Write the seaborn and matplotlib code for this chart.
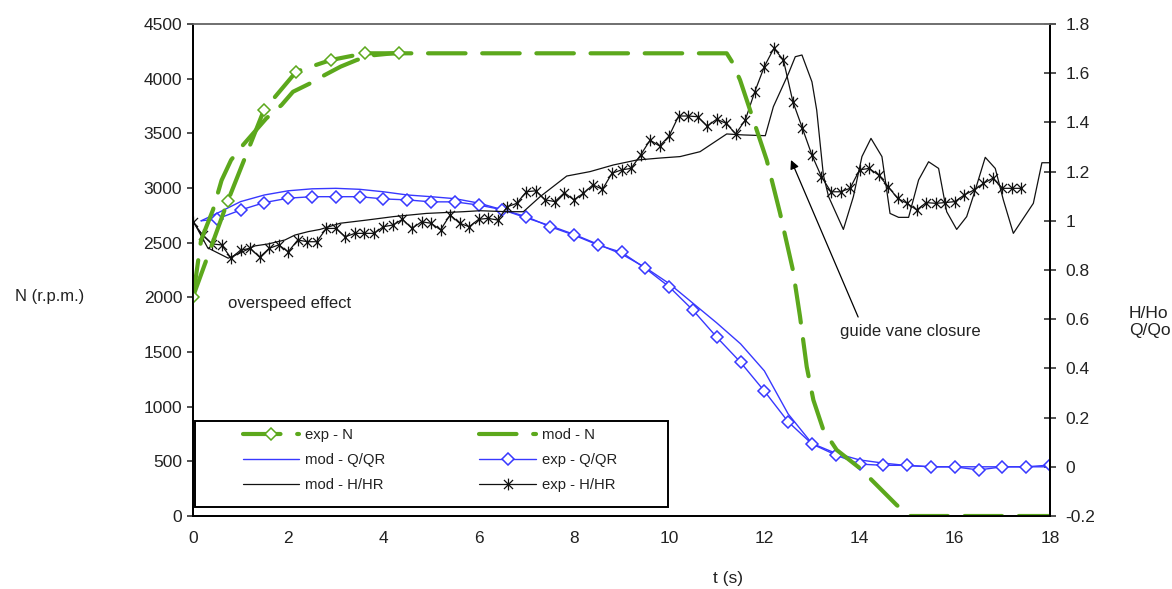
import matplotlib
matplotlib.use("Agg")
import matplotlib.pyplot as plt
from matplotlib.path import Path
from matplotlib.patches import Rectangle
import seaborn as sns

# ---- speed N (r.p.m.) ----
t_exp_n = [0.0, 0.735, 1.49, 2.17, 2.89, 3.61, 4.33]
n_exp = [2006, 2885, 3713, 4065, 4170, 4232, 4232]

t_mod_n = [0.0, 0.17, 0.42, 0.6, 0.8, 1.05, 1.54, 1.86, 2.1, 2.46, 2.77, 3.1,
           3.44, 3.8, 4.2, 11.21, 11.32, 11.49, 12.05, 12.33, 12.6, 12.75,
           12.89, 13.03, 13.24, 13.52, 14.01, 14.78, 15.06, 18.0]
n_mod = [2000, 2524, 2800, 3070, 3256, 3393, 3637, 3759, 3880, 3957, 4034, 4110,
         4171, 4215, 4232, 4232, 4155, 3988, 3256, 2770, 2250, 1823,
         1366, 1061, 787, 604, 436, 100, 0, 0]

# ---- discharge Q/QR ----
t_exp_q = [0.17, 0.5, 1.0, 1.5, 2.0, 2.5, 3.0, 3.5, 4.0, 4.5, 5.0, 5.5, 6.0, 6.5,
           7.0, 7.5, 8.0, 8.5, 9.0, 9.5, 10.0, 10.5, 11.0, 11.5, 12.0, 12.5,
           13.0, 13.5, 14.0, 14.5, 15.0, 15.5, 16.0, 16.5, 17.0, 17.5, 18.0]
q_exp = [1.0, 1.007, 1.044, 1.074, 1.092, 1.098, 1.098, 1.098, 1.089, 1.085,
         1.077, 1.077, 1.064, 1.045, 1.017, 0.976, 0.942, 0.902, 0.872, 0.807,
         0.732, 0.637, 0.527, 0.425, 0.308, 0.183, 0.093, 0.048, 0.011, 0.006,
         0.006, 0.0, 0.0, -0.013, 0.0, 0.0, 0.007]

t_mod_q = [0.17, 0.5, 1.0, 1.5, 2.0, 2.5, 3.0, 3.5, 4.0, 4.5, 5.0, 5.5, 6.0, 6.5,
           7.0, 7.5, 8.0, 8.5, 9.0, 9.5, 10.0, 10.5, 11.0, 11.5, 12.0, 12.5,
           13.0, 13.5, 14.0, 14.5, 15.0, 15.5, 18.0]
q_mod = [1.0, 1.03, 1.078, 1.105, 1.122, 1.13, 1.132, 1.128, 1.118, 1.105,
         1.098, 1.09, 1.072, 1.045, 1.012, 0.98, 0.945, 0.905, 0.865, 0.81,
         0.745, 0.665, 0.585, 0.5, 0.39, 0.215, 0.095, 0.055, 0.028, 0.015,
         0.005, 0.0, 0.0]

# ---- head H/HR ----
t_exp_h = [round(0.2 * i, 1) for i in range(88)]
h_exp = [0.996, 0.942, 0.906, 0.902, 0.848, 0.881, 0.888, 0.852, 0.888, 0.902,
         0.874, 0.922, 0.915, 0.915, 0.969, 0.969, 0.935, 0.949, 0.949, 0.949,
         0.976, 0.983, 1.006, 0.969, 0.996, 0.99, 0.963, 1.024, 0.99, 0.976,
         1.006, 1.01, 1.003, 1.057, 1.071, 1.118, 1.122, 1.085, 1.078, 1.114,
         1.085, 1.112, 1.146, 1.128, 1.193, 1.207, 1.213, 1.267, 1.328, 1.304,
         1.345, 1.426, 1.426, 1.423, 1.385, 1.413, 1.396, 1.353, 1.41, 1.525,
         1.627, 1.701, 1.654, 1.484, 1.376, 1.267, 1.179, 1.118, 1.118, 1.132,
         1.207, 1.213, 1.186, 1.139, 1.091, 1.071, 1.044, 1.074, 1.071, 1.074,
         1.078, 1.105, 1.125, 1.152, 1.173, 1.132, 1.132, 1.132]

t_mod_h = [0.0, 0.31, 0.74, 1.0, 1.3, 1.58, 1.93, 2.14, 2.42, 2.67, 3.09, 3.65,
           4.21, 4.9, 5.68, 6.03, 6.59, 6.94, 7.29, 7.85, 8.34, 8.83, 9.32,
           9.8, 10.23, 10.65, 11.21, 11.56, 12.02, 12.19, 12.51, 12.65, 12.79,
           13.0, 13.1, 13.24, 13.35, 13.66, 13.87, 14.05, 14.24, 14.47, 14.64,
           14.82, 15.03, 15.24, 15.45, 15.66, 15.83, 16.04, 16.25, 16.43, 16.64,
           16.85, 17.02, 17.23, 17.65, 17.83, 18.0]
h_mod = [1.0, 0.89, 0.848, 0.87, 0.898, 0.906, 0.922, 0.942, 0.956, 0.965, 0.99,
         1.003, 1.017, 1.03, 1.037, 1.041, 1.037, 1.037, 1.098, 1.182, 1.2,
         1.227, 1.247, 1.255, 1.261, 1.281, 1.353, 1.349, 1.346, 1.464, 1.6,
         1.667, 1.674, 1.565, 1.45, 1.186, 1.098, 0.965, 1.098, 1.261, 1.335,
         1.261, 1.03, 1.014, 1.014, 1.166, 1.24, 1.213, 1.037, 0.965, 1.017,
         1.125, 1.258, 1.213, 1.085, 0.949, 1.071, 1.236, 1.236]

x_ticks = list(range(0, 19, 2))
n_ticks = list(range(0, 4501, 500))
r_ticks = [-0.2, 0, 0.2, 0.4, 0.6, 0.8, 1, 1.2, 1.4, 1.6, 1.8]
r_tick_labels = ["-0.2", "0", "0.2", "0.4", "0.6", "0.8", "1", "1.2", "1.4",
                 "1.6", "1.8"]

GREEN = "#5ca81c"
BLUE = "#3838ff"
BLACK = "#111111"

sns.set_theme(style="white")
plt.rcParams["font.family"] = ["Liberation Sans", "DejaVu Sans"]

fig = plt.figure(figsize=(11.72, 5.89), dpi=100)
ax = fig.add_axes([193 / 1172, 1 - 516 / 589, 857 / 1172, 492 / 589])
ax2 = ax.twinx()

# asterisk marker: an X crossed by a vertical bar
star = Path([(-1, -1), (1, 1), (-1, 1), (1, -1), (0, -1.3), (0, 1.3)],
            [Path.MOVETO, Path.LINETO, Path.MOVETO, Path.LINETO,
             Path.MOVETO, Path.LINETO])

common = dict(estimator=None, sort=False, legend=False)

# ratio curves on the right-hand scale
sns.lineplot(x=t_mod_q, y=q_mod, ax=ax2, color=BLUE, lw=1.0, **common)
l_mod_q = ax2.lines[-1]
sns.lineplot(x=t_exp_q, y=q_exp, ax=ax2, color=BLUE, lw=1.0, marker="D",
             markersize=6, mfc="white", mec=BLUE, mew=1.1,
             markevery=slice(1, None), **common)
l_exp_q = ax2.lines[-1]
sns.lineplot(x=t_mod_h, y=h_mod, ax=ax2, color=BLACK, lw=0.9, **common)
l_mod_h = ax2.lines[-1]
sns.lineplot(x=t_exp_h, y=h_exp, ax=ax2, color=BLACK, lw=0.9, marker=star,
             markersize=8.5, mfc="none", mec=BLACK, mew=0.9, **common)
l_exp_h = ax2.lines[-1]

# speed curves on the left-hand scale
sns.lineplot(x=t_mod_n, y=n_mod, ax=ax, color=GREEN, lw=3.0,
             linestyle=(0, (9, 4)), dash_capstyle="round", **common)
l_mod_n = ax.lines[-1]
sns.lineplot(x=t_exp_n, y=n_exp, ax=ax, color=GREEN, lw=3.0,
             linestyle=(0, (9, 4)), dash_capstyle="round", marker="D",
             markersize=6.5, mfc="white", mec=GREEN, mew=1.1, **common)
l_exp_n = ax.lines[-1]

# speed axes drawn over the ratio axes
ax.set_zorder(ax2.get_zorder() + 1)
ax.patch.set_visible(False)
ax2.patch.set_facecolor("white")

ax.set_xlim(0, 18)
ax.set_ylim(0, 4500)
ax2.set_ylim(-0.2, 1.8)
ax.set_xticks(x_ticks)
ax.set_yticks(n_ticks)
ax2.set_yticks(r_ticks)
ax2.set_yticklabels(r_tick_labels)
ax.set_xlabel("")
ax.set_ylabel("")
ax2.set_ylabel("")

ax.tick_params(axis="x", direction="out", length=4, width=1.1, pad=6.5,
               labelsize=12.5, colors="#222222")
ax.tick_params(axis="y", direction="out", length=4.3, width=1.1, pad=3.5,
               labelsize=12.5, colors="#222222")
ax2.tick_params(axis="y", direction="inout", length=8.6, width=1.1, pad=7,
                labelsize=12.5, colors="#222222")

for a in (ax, ax2):
    for side in ("left", "bottom", "right"):
        a.spines[side].set_color("black")
        a.spines[side].set_linewidth(1.3)
    a.spines["top"].set_color("#6e6e6e")
    a.spines["top"].set_linewidth(1.2)
    a.grid(False)

# annotations
ax.text(0.735, 1948, "overspeed effect", fontsize=12, color="#222222",
        va="center", ha="left")
ax.text(13.59, 1683, "guide vane closure", fontsize=12, color="#222222",
        va="center", ha="left")
ax.annotate("", xy=(12.56, 3256), xytext=(13.97, 1820),
            arrowprops=dict(arrowstyle="-|>", color="black", lw=0.9,
                            mutation_scale=13, shrinkA=0, shrinkB=0))

# legend with a plain rectangular frame
frame = Rectangle((195 / 1172, 1 - 507 / 589), 473 / 1172, 86 / 589,
                  transform=fig.transFigure, facecolor="white",
                  edgecolor="black", lw=1.4, zorder=4, clip_on=False)
ax.add_patch(frame)
handles = [l_exp_n, l_mod_q, l_mod_h, l_mod_n, l_exp_q, l_exp_h]
labels = ["exp - N", "mod - Q/QR", "mod - H/HR", "mod - N", "exp - Q/QR",
          "exp - H/HR"]
leg = ax.legend(handles, labels, ncol=2, frameon=False, fontsize=10.7,
                loc="upper left", bbox_to_anchor=(243 / 1172, 1 - 428 / 589),
                bbox_transform=fig.transFigure, borderpad=0, borderaxespad=0,
                handlelength=3.8, handletextpad=0.4, columnspacing=6.3,
                labelspacing=0.75)
leg.set_zorder(5)
for txt in leg.get_texts():
    txt.set_color("#222222")

# axis titles
fig.text(15 / 1172, 1 - 296 / 589, "N (r.p.m.)", fontsize=12, color="#222222",
         ha="left", va="center")
fig.text(1129 / 1172, 1 - 313 / 589, "H/Ho", fontsize=12.5, color="#222222",
         ha="left", va="center")
fig.text(1129 / 1172, 1 - 330 / 589, "Q/Qo", fontsize=12.5, color="#222222",
         ha="left", va="center")
fig.text(713 / 1172, 1 - 578 / 589, "t (s)", fontsize=12.5, color="#222222",
         ha="left", va="center")

fig.savefig("out.png", dpi=100, facecolor="white")
